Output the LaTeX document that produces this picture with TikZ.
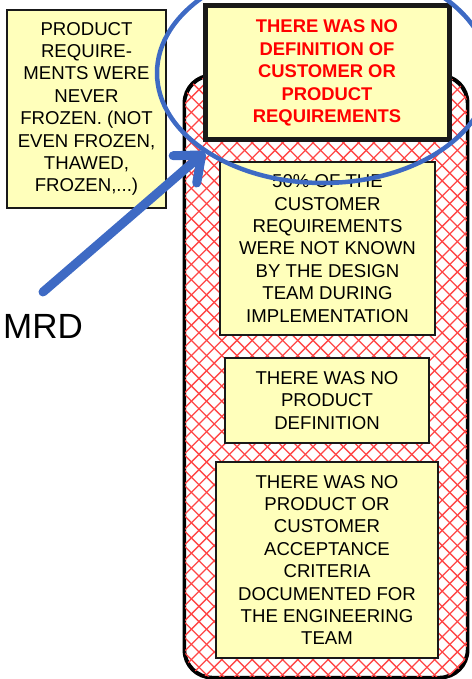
\documentclass[tikz,border=0pt]{standalone}
\usepackage{fontspec}
\setmainfont{Liberation Sans}
\usetikzlibrary{arrows.meta,shapes.geometric}

\definecolor{noteyellow}{RGB}{255,255,187}
\definecolor{hatchred}{RGB}{255,70,70}
\definecolor{markblue}{RGB}{62,106,196}
\definecolor{issuered}{RGB}{255,0,0}

\begin{document}
\begin{tikzpicture}[x=1pt,y=-1pt,
  note/.style={draw=black!90, line width=2.4pt, fill=noteyellow, align=center,
    inner sep=0pt, font=\fontsize{18.6}{22.4}\selectfont},
  panel/.style={draw=black, line width=2.4pt, rounded corners=28pt, inner sep=0pt},
  hatchline/.style={hatchred, line width=1.3pt},
]
\useasboundingbox (0,0) rectangle (471,679);

% background panel holding the issue boxes
\node[panel, fill=white, minimum width=282, minimum height=601] (panel) at (326,376.5) {};
% red cross-hatching inside the panel
\begin{scope}
  \clip[rounded corners=28pt] (panel.north west) rectangle (panel.south east);
  \foreach \k in {-24,...,37}
    \draw[hatchline] (15.2*\k-109,40) -- (15.2*\k+571,720);
  \foreach \k in {-20,...,41}
    \draw[hatchline] (15.2*\k+507,40) -- (15.2*\k-173,720);
\end{scope}
\draw[panel] (panel.north west) rectangle (panel.south east);

% side note
\node[note, line width=2.2pt, minimum width=159, minimum height=198] (frozen) at (86.5,109)
  {PRODUCT\\REQUIRE-\\MENTS WERE\\NEVER\\FROZEN. (NOT\\EVEN FROZEN,\\THAWED,\\FROZEN,...)};

% headline issue
\node[note, line width=5pt, font=\bfseries\fontsize{18.4}{22.4}\selectfont,
  text=issuered, minimum width=244, minimum height=134] (nodef) at (327,73)
  {THERE WAS NO\\DEFINITION OF\\CUSTOMER OR\\PRODUCT\\REQUIREMENTS};

% supporting issues
\node[note, minimum width=215, minimum height=173] (unknown) at (327.5,248.5)
  {50\% OF THE\\CUSTOMER\\REQUIREMENTS\\WERE NOT KNOWN\\BY THE DESIGN\\TEAM DURING\\IMPLEMENTATION};
\node[note, minimum width=204, minimum height=85] (nodefn) at (327,400.5)
  {THERE WAS NO\\PRODUCT\\DEFINITION};
\node[note, minimum width=222, minimum height=196] (noaccept) at (327,560)
  {THERE WAS NO\\PRODUCT OR\\CUSTOMER\\ACCEPTANCE\\CRITERIA\\DOCUMENTED FOR\\THE ENGINEERING\\TEAM};

% highlight ring around the headline
\node[ellipse, draw=markblue, line width=4.5pt, inner sep=0pt,
  minimum width=332, minimum height=220] (ring) at (323,73) {};

% MRD label and pointer
\node[anchor=base west, inner sep=0pt, font=\fontsize{35}{40}\selectfont] (mrd) at (3,338) {MRD};
\coordinate (mrdtail) at (43,292);
\coordinate (ringhit) at (205,152);
\draw[markblue, line width=9pt, line cap=round,
  -{Straight Barb[length=22pt,width=36pt,round]}] (mrdtail) -- (ringhit);
\end{tikzpicture}
\end{document}
